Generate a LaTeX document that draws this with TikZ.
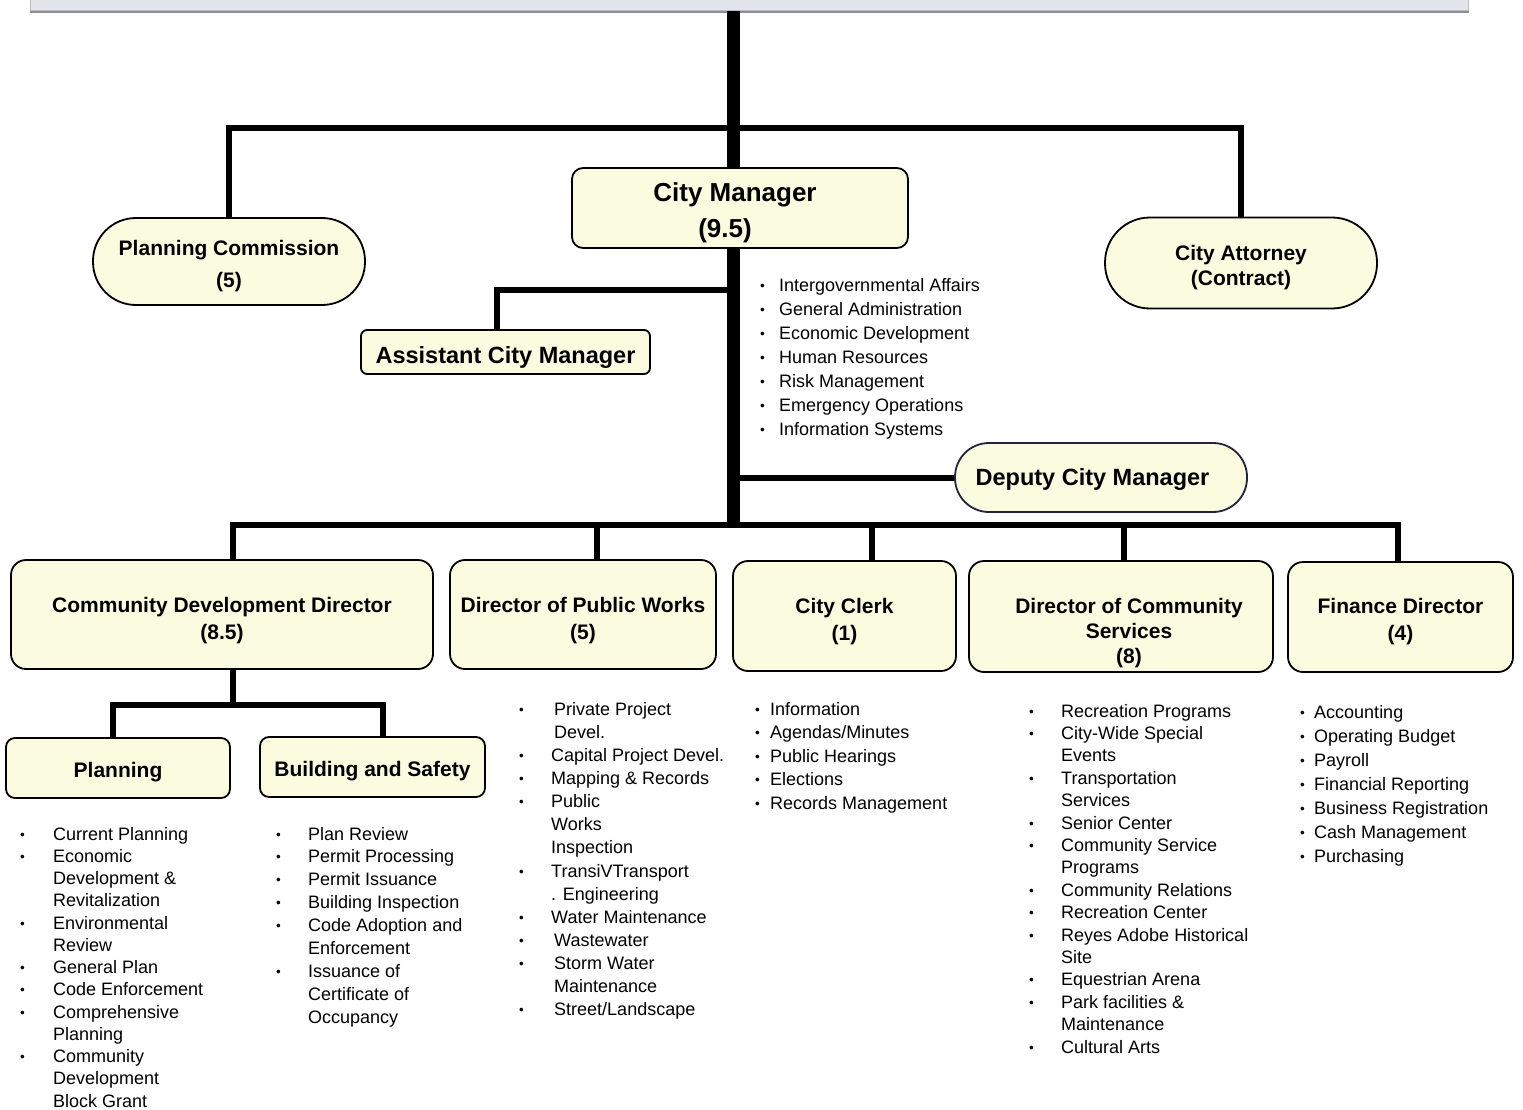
\documentclass[tikz,border=0pt]{standalone}
\usepackage{fontspec}
\setmainfont{Liberation Sans}
\usetikzlibrary{backgrounds}
\definecolor{boxfill}{RGB}{251,251,224}
\definecolor{topfill}{RGB}{226,229,233}
\definecolor{topedge}{RGB}{140,142,146}
\newcommand\bu{\raisebox{1pt}{\scalebox{0.75}{\textbullet}}}
\newcommand\blist[2]{\begin{tabular}[t]{@{}p{#1}@{}l@{}}#2\end{tabular}}
\newcommand\up[1]{\rule{0pt}{#1}}
\tikzset{
  base/.style={draw=black, line width=1.8pt, fill=boxfill, inner sep=0pt, align=center},
  rbox/.style={base, rounded corners=#1},
  stadium/.style={base, rounded corners=#1},
  ttl/.style={font=\bfseries\fontsize{21}{27}\selectfont},
  conn/.style={line width=6pt, line cap=rect},
  drop/.style={line width=6pt},
  trunk/.style={line width=13pt},
  blst/.style={anchor=base west, inner sep=0pt},
}
\begin{document}
\begin{tikzpicture}[x=1pt,y=-1pt]
\useasboundingbox (0,0) rectangle (1523,1110);

% top box
\node[draw=topedge!60, fill=topfill, line width=1pt, minimum width=1438pt, minimum height=32pt, inner sep=0pt] (top) at (749,-5) {};

% coordinates on the trunk
\coordinate (tk) at (733,525);
\coordinate (h1) at (733,128);
\coordinate (j1) at (733,290);
\coordinate (sub) at (233,705);

% upper nodes
\node[stadium=43pt, minimum width=272pt, minimum height=87pt, font=\bfseries\fontsize{21}{32}\selectfont] (pc) at (229,261.5) {\up{25pt}Planning Commission\\(5)};
\node[rbox=11pt, minimum width=336pt, minimum height=80pt, font=\bfseries\fontsize{26}{36}\selectfont] (cm) at (740,208) {\up{29pt}\hspace*{-10pt}City Manager\\\hspace*{-30pt}(9.5)};
\node[stadium=45pt, minimum width=272pt, minimum height=91pt, font=\bfseries\fontsize{21}{25}\selectfont] (ca) at (1241,263) {\up{25pt}City Attorney\\(Contract)};
\node[rbox=6pt, minimum width=289pt, minimum height=44pt, font=\bfseries\fontsize{23.5}{28}\selectfont] (acm) at (505.5,352) {\up{27pt}Assistant City Manager};
\node[stadium=34pt, minimum width=292pt, minimum height=69pt, draw={rgb,255:red,35;green,35;blue,60}, font=\bfseries\fontsize{23.5}{28}\selectfont] (dcm) at (1101,477.5) {\up{21pt}\hspace*{-17pt}Deputy City Manager};

% directors
\node[rbox=15pt, minimum width=422pt, minimum height=109pt, ttl] (cdd) at (222,614.5) {\up{27pt}Community Development Director\\(8.5)};
\node[rbox=15pt, minimum width=266pt, minimum height=109pt, ttl] (dpw) at (583,614.5) {\up{27pt}Director of Public Works\\(5)};
\node[rbox=15pt, minimum width=223pt, minimum height=110pt, ttl] (cc) at (844.5,616) {\up{27pt}City Clerk\\(1)};
\node[rbox=15pt, minimum width=304pt, minimum height=111pt, ttl, font=\bfseries\fontsize{21}{25}\selectfont] (dcs) at (1121,616.5) {\up{49pt}\hspace*{16pt}Director of Community\\\hspace*{16pt}Services\\\hspace*{16pt}(8)};
\node[rbox=15pt, minimum width=225pt, minimum height=110pt, ttl] (fd) at (1400.5,617) {\up{24pt}Finance Director\\(4)};

% sub units
\node[rbox=9pt, minimum width=224pt, minimum height=60pt, ttl] (pl) at (118,768) {\up{23pt}Planning};
\node[rbox=9pt, minimum width=225pt, minimum height=60pt, ttl] (bs) at (372.5,767) {\up{23pt}Building and Safety};

% lists
\node[blst, font=\fontsize{18}{24}\selectfont] (cml) at (760,291) {\blist{19pt}{%
\bu & Intergovernmental Affairs\\
\bu & General Administration\\
\bu & Economic Development\\
\bu & Human Resources\\
\bu & Risk Management\\
\bu & Emergency Operations\\
\bu & Information Systems}};

\node[blst, font=\fontsize{18}{22.25}\selectfont] (pll) at (20,840) {\blist{33pt}{%
\bu & Current Planning\\
\bu & Economic\\
    & Development \&\\
    & Revitalization\\
\bu & Environmental\\
    & Review\\
\bu & General Plan\\
\bu & Code Enforcement\\
\bu & Comprehensive\\
    & Planning\\
\bu & Community\\
    & Development\\
    & Block Grant}};

\node[blst, font=\fontsize{18}{22.9}\selectfont] (bsl) at (276,840) {\blist{32pt}{%
\bu & Plan Review\\
\bu & Permit Processing\\
\bu & Permit Issuance\\
\bu & Building Inspection\\
\bu & Code Adoption and\\
    & Enforcement\\
\bu & Issuance of\\
    & Certificate of\\
    & Occupancy}};

\node[blst, font=\fontsize{18}{23.15}\selectfont] (dpwl) at (519,715) {\blist{32pt}{%
\bu & \hspace*{3pt}Private Project\\
    & \hspace*{3pt}Devel.\\
\bu & Capital Project Devel.\\
\bu & Mapping \& Records\\
\bu & Public\\
    & Works\\
    & Inspection\\
\bu & TransiVTransport\\
    & . Engineering\\
\bu & Water Maintenance\\
\bu & \hspace*{3pt}Wastewater\\
\bu & \hspace*{3pt}Storm Water\\
    & \hspace*{3pt}Maintenance\\
\bu & \hspace*{3pt}Street/Landscape}};

\node[blst, font=\fontsize{18}{23.5}\selectfont] (ccl) at (755,715) {\blist{15pt}{%
\bu & Information\\
\bu & Agendas/Minutes\\
\bu & Public Hearings\\
\bu & Elections\\
\bu & Records Management}};

\node[blst, font=\fontsize{18}{22.4}\selectfont] (dcsl) at (1029,717) {\blist{32pt}{%
\bu & Recreation Programs\\
\bu & City-Wide Special\\
    & Events\\
\bu & Transportation\\
    & Services\\
\bu & Senior Center\\
\bu & Community Service\\
    & Programs\\
\bu & Community Relations\\
\bu & Recreation Center\\
\bu & Reyes Adobe Historical\\
    & Site\\
\bu & Equestrian Arena\\
\bu & Park facilities \&\\
    & Maintenance\\
\bu & Cultural Arts}};

\node[blst, font=\fontsize{18}{24}\selectfont] (fdl) at (1300,718) {\blist{14pt}{%
\bu & Accounting\\
\bu & Operating Budget\\
\bu & Payroll\\
\bu & Financial Reporting\\
\bu & Business Registration\\
\bu & Cash Management\\
\bu & Purchasing}};

% connectors
\begin{scope}[on background layer]
\fill[white] (0,0) rectangle (1523,1110);
\draw[topedge, line width=3pt] (top.south west) -- (top.south east);
\draw[conn] (pc.north) |- (h1) -| (ca.north);
\draw[conn] (j1) -| ([xshift=-8.5pt]acm.north);
\draw[conn] (dcm.west) -- (dcm.west -| tk);
\draw[conn] ([xshift=11pt]cdd.north) |- (tk) -| ([xshift=-2.5pt]fd.north);
\draw[drop] ([xshift=14pt]dpw.north) -- ++(0,-35);
\draw[drop] ([xshift=27.5pt]cc.north) -- ++(0,-35);
\draw[drop] ([xshift=3pt]dcs.north) -- ++(0,-35);
\draw[conn] ([xshift=11pt]cdd.south) -- (sub);
\draw[conn] ([xshift=-5pt]pl.north) |- (sub) -| ([xshift=10.5pt]bs.north);
\draw[trunk] (top.south -| tk) -- (tk);
\end{scope}
\end{tikzpicture}
\end{document}
